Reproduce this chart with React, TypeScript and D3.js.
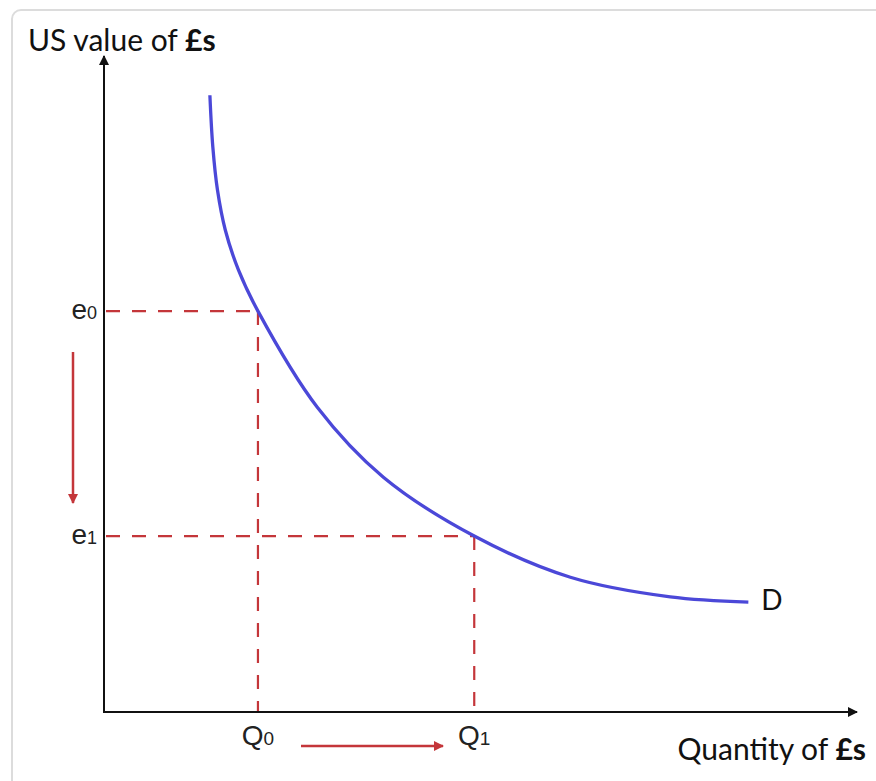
import React from "react";
import * as d3 from "d3";

// Demand curve for pounds: quantity (x) vs US value (y), in abstract units 0–100
const curveQuantity = [14.1, 14.49, 15.11, 16.15, 17.9, 20.5, 28.4, 37.2, 49.3, 62.1, 75.4, 85.8];
const curveValue = [94.3, 86.4, 79.8, 73.7, 67.6, 61.3, 46.6, 35.9, 26.9, 20.6, 17.6, 16.8];

// Exchange-rate levels and the quantities demanded at each
const rateLabels = ["0", "1"]; // subscripts of e
const rateValues = [61.3, 26.9];
const quantityLabels = ["0", "1"]; // subscripts of Q
const quantityValues = [20.5, 49.3];

const W = 876;
const H = 781;
const originX = 104;
const originY = 712;

const x = d3.scaleLinear().domain([0, 100]).range([originX, 855]);
const y = d3.scaleLinear().domain([0, 100]).range([originY, 58]);

const RED = "#c4363a";
const BLUE = "#4b48d8";
const titleFont = "Lato, 'Open Sans', sans-serif";
const tickFont = "'Liberation Sans', Arial, sans-serif";

export default function App() {
  const pts: [number, number][] = curveQuantity.map((q, i) => [q, curveValue[i]]);
  const line = d3
    .line<[number, number]>()
    .x((d) => x(d[0]))
    .y((d) => y(d[1]))
    .curve(d3.curveCatmullRom.alpha(0.5));

  const last = pts[pts.length - 1];

  return (
    <svg
      width={W}
      height={H}
      style={{ position: "absolute", left: 0, top: 0, background: "#fff" }}
    >
      <defs>
        <marker id="blackHead" viewBox="0 0 10 10" refX="9" refY="5" markerWidth="10" markerHeight="10" markerUnits="userSpaceOnUse" orient="auto">
          <path d="M0,0 L10,5 L0,10 z" fill="#111" />
        </marker>
        <marker id="redHead" viewBox="0 0 10 10" refX="9" refY="5" markerWidth="12" markerHeight="10" markerUnits="userSpaceOnUse" orient="auto">
          <path d="M0,0 L10,5 L0,10 z" fill={RED} />
        </marker>
      </defs>

      {/* panel frame */}
      <rect x={12} y={10} width={W + 20} height={H + 20} rx={9} fill="none" stroke="#dcdcdc" strokeWidth={2} />

      {/* guide lines from each rate to the curve and down to the axis */}
      {rateValues.map((v, i) => (
        <g key={`g${i}`} stroke={RED} strokeWidth={2.2} strokeDasharray="14 12" fill="none">
          <line x1={originX + 2} y1={y(v)} x2={x(quantityValues[i])} y2={y(v)} />
          <line x1={x(quantityValues[i])} y1={y(v)} x2={x(quantityValues[i])} y2={originY} />
        </g>
      ))}

      {/* axes */}
      <line x1={originX} y1={originY} x2={originX} y2={56} stroke="#111" strokeWidth={2} markerEnd="url(#blackHead)" />
      <line x1={originX - 1} y1={originY} x2={857} y2={originY} stroke="#111" strokeWidth={2} markerEnd="url(#blackHead)" />

      {/* demand curve */}
      <path d={line(pts) ?? ""} fill="none" stroke={BLUE} strokeWidth={3.3} strokeLinecap="butt" />
      <text x={x(last[0]) + 13} y={y(last[1]) + 8} fontFamily={titleFont} fontSize={28} fill="#111">
        D
      </text>

      {/* rate labels */}
      {rateValues.map((v, i) => (
        <text key={`e${i}`} x={97} y={y(v) + 8} textAnchor="end" fontFamily={tickFont} fontSize={28} fill="#222">
          e<tspan fontSize={18}>{rateLabels[i]}</tspan>
        </text>
      ))}

      {/* quantity labels */}
      {quantityValues.map((q, i) => (
        <text key={`q${i}`} x={x(q)} y={745} textAnchor="middle" fontFamily={tickFont} fontSize={28} fill="#222">
          Q<tspan fontSize={19}>{quantityLabels[i]}</tspan>
        </text>
      ))}

      {/* direction arrows */}
      <line x1={73} y1={352} x2={73} y2={503} stroke={RED} strokeWidth={2.5} markerEnd="url(#redHead)" />
      <line x1={301} y1={746} x2={443} y2={746} stroke={RED} strokeWidth={2.5} markerEnd="url(#redHead)" />

      {/* axis titles */}
      <text x={28} y={51} fontFamily={titleFont} fontSize={30} fill="#111">
        US value of <tspan fontWeight="bold">£s</tspan>
      </text>
      <text x={866} y={760} textAnchor="end" fontFamily={titleFont} fontSize={30} fill="#111">
        Quantity of <tspan fontWeight="bold">£s</tspan>
      </text>
    </svg>
  );
}
